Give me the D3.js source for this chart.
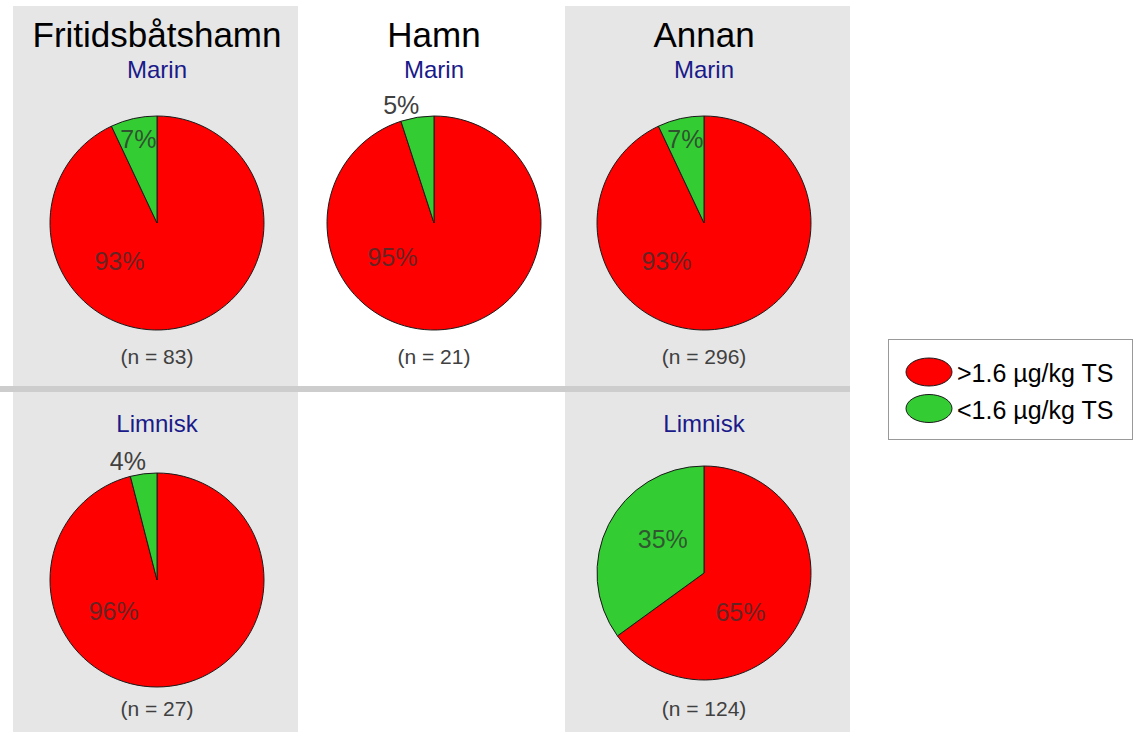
<!DOCTYPE html>
<html>
<head>
<meta charset="utf-8">
<script src="https://cdn.jsdelivr.net/npm/d3@7"></script>
<style>
  body { margin: 0; background: #fff; }
  svg { display: block; font-family: "Liberation Sans", Arial, sans-serif; }
</style>
</head>
<body>
<svg id="chart"></svg>
<script>
// data
const categories = ["Fritidsbåtshamn", "Hamn", "Annan"];
const waterTypes = ["Marin", "Limnisk"];
const seriesLabels = [">1.6 µg/kg TS", "<1.6 µg/kg TS"];
const seriesColors = ["#ff0000", "#33cc33"];
// rows = water type, columns = category (null = no data)
const aboveShare = [[93, 95, 93], [96, null, 65]];
const belowShare = [[7, 5, 7], [4, null, 35]];
const sampleCount = [[83, 21, 296], [27, null, 124]];

const width = 1134, height = 732;
const svg = d3.select("#chart").attr("width", width).attr("height", height);

const colX = d3.scaleOrdinal().domain(categories).range([157, 434, 704]);
const panelX = [13, null, 565];
const panelW = 285;
const radius = 107;
const rowTop = [6, 392];
const pieY = [[223, 223, 223], [580, 580, 573]];

const pie = d3.pie().sort(null).value(d => d.value);
const arc = d3.arc().innerRadius(0).outerRadius(radius);

// gray panel backgrounds for columns 1 and 3
panelX.forEach(x => {
    if (x == null) return;
    svg.append("rect")
        .attr("x", x)
        .attr("y", rowTop[0])
        .attr("width", panelW)
        .attr("height", height - rowTop[0])
        .attr("fill", "#e6e6e6");
});

// divider between rows
svg.append("rect")
    .attr("x", 0).attr("y", 386)
    .attr("width", 850).attr("height", 6)
    .attr("fill", "#cdcdcd");

// titles
categories.forEach(c => {
    svg.append("text")
        .attr("x", colX(c)).attr("y", 47)
        .attr("text-anchor", "middle")
        .attr("font-size", "35px")
        .attr("fill", "#000")
        .text(c);
});

waterTypes.forEach((w, r) => {
    categories.forEach((c, ci) => {
        if (aboveShare[r][ci] == null) return;
        const cx = colX(c), cy = pieY[r][ci];
        const g = svg.append("g").attr("transform", `translate(${cx},${cy})`);

        svg.append("text")
            .attr("x", cx).attr("y", r === 0 ? 78 : 432)
            .attr("text-anchor", "middle")
            .attr("font-size", "24px")
            .attr("fill", "#1a1a8a")
            .text(w);

        const slices = pie([
            {key: seriesLabels[0], value: aboveShare[r][ci], color: seriesColors[0]},
            {key: seriesLabels[1], value: belowShare[r][ci], color: seriesColors[1]}
        ]);

        g.selectAll("path")
            .data(slices)
            .enter()
            .append("path")
            .attr("d", arc)
            .attr("fill", d => d.data.color)
            .attr("stroke", "#1a1a1a")
            .attr("stroke-width", 1);

        slices.forEach(d => {
            const span = d.endAngle - d.startAngle;
            const mid = (d.startAngle + d.endAngle) / 2;
            const t = g.append("text")
                .attr("font-size", "25px")
                .attr("dominant-baseline", "central")
                .text(d.data.value + "%");
            if (d.data.value < 6) {
                // small slice: label outside the rim
                t.attr("x", Math.sin(mid) * radius * 1.12 + 4)
                    .attr("y", -Math.cos(mid) * radius * 1.12)
                    .attr("text-anchor", "end")
                    .attr("fill", "#404040");
            } else if (d.data.value < 10) {
                t.attr("x", Math.sin(mid) * radius * 0.8)
                    .attr("y", -Math.cos(mid) * radius * 0.8)
                    .attr("text-anchor", "middle")
                    .attr("fill", "#303030").attr("fill-opacity", 0.8);
            } else {
                // best-fit style: big slices get their label pushed round
                const shift = span > Math.PI ? (span - Math.PI) * 0.37 : span * 0.1;
                const a = mid + shift;
                t.attr("x", Math.sin(a) * radius * 0.5)
                    .attr("y", -Math.cos(a) * radius * 0.5)
                    .attr("text-anchor", "middle")
                    .attr("fill", "#303030").attr("fill-opacity", 0.75);
            }
        });

        svg.append("text")
            .attr("x", cx).attr("y", r === 0 ? 364 : 716)
            .attr("text-anchor", "middle")
            .attr("font-size", "21px")
            .attr("fill", "#404040")
            .text(`(n = ${sampleCount[r][ci]})`);
    });
});

// legend
const legend = svg.append("g");
legend.append("rect")
    .attr("x", 888.5).attr("y", 339.5)
    .attr("width", 244).attr("height", 100)
    .attr("fill", "#fff")
    .attr("stroke", "#999");

seriesLabels.forEach((s, i) => {
    const y = 372 + i * 36.5;
    legend.append("ellipse")
        .attr("cx", 929).attr("cy", y)
        .attr("rx", 23).attr("ry", 14)
        .attr("fill", seriesColors[i])
        .attr("stroke", "#1a1a1a");
    legend.append("text")
        .attr("x", 957).attr("y", y + 10)
        .attr("font-size", "25px")
        .attr("fill", "#000")
        .text(s);
});
</script>
</body>
</html>
